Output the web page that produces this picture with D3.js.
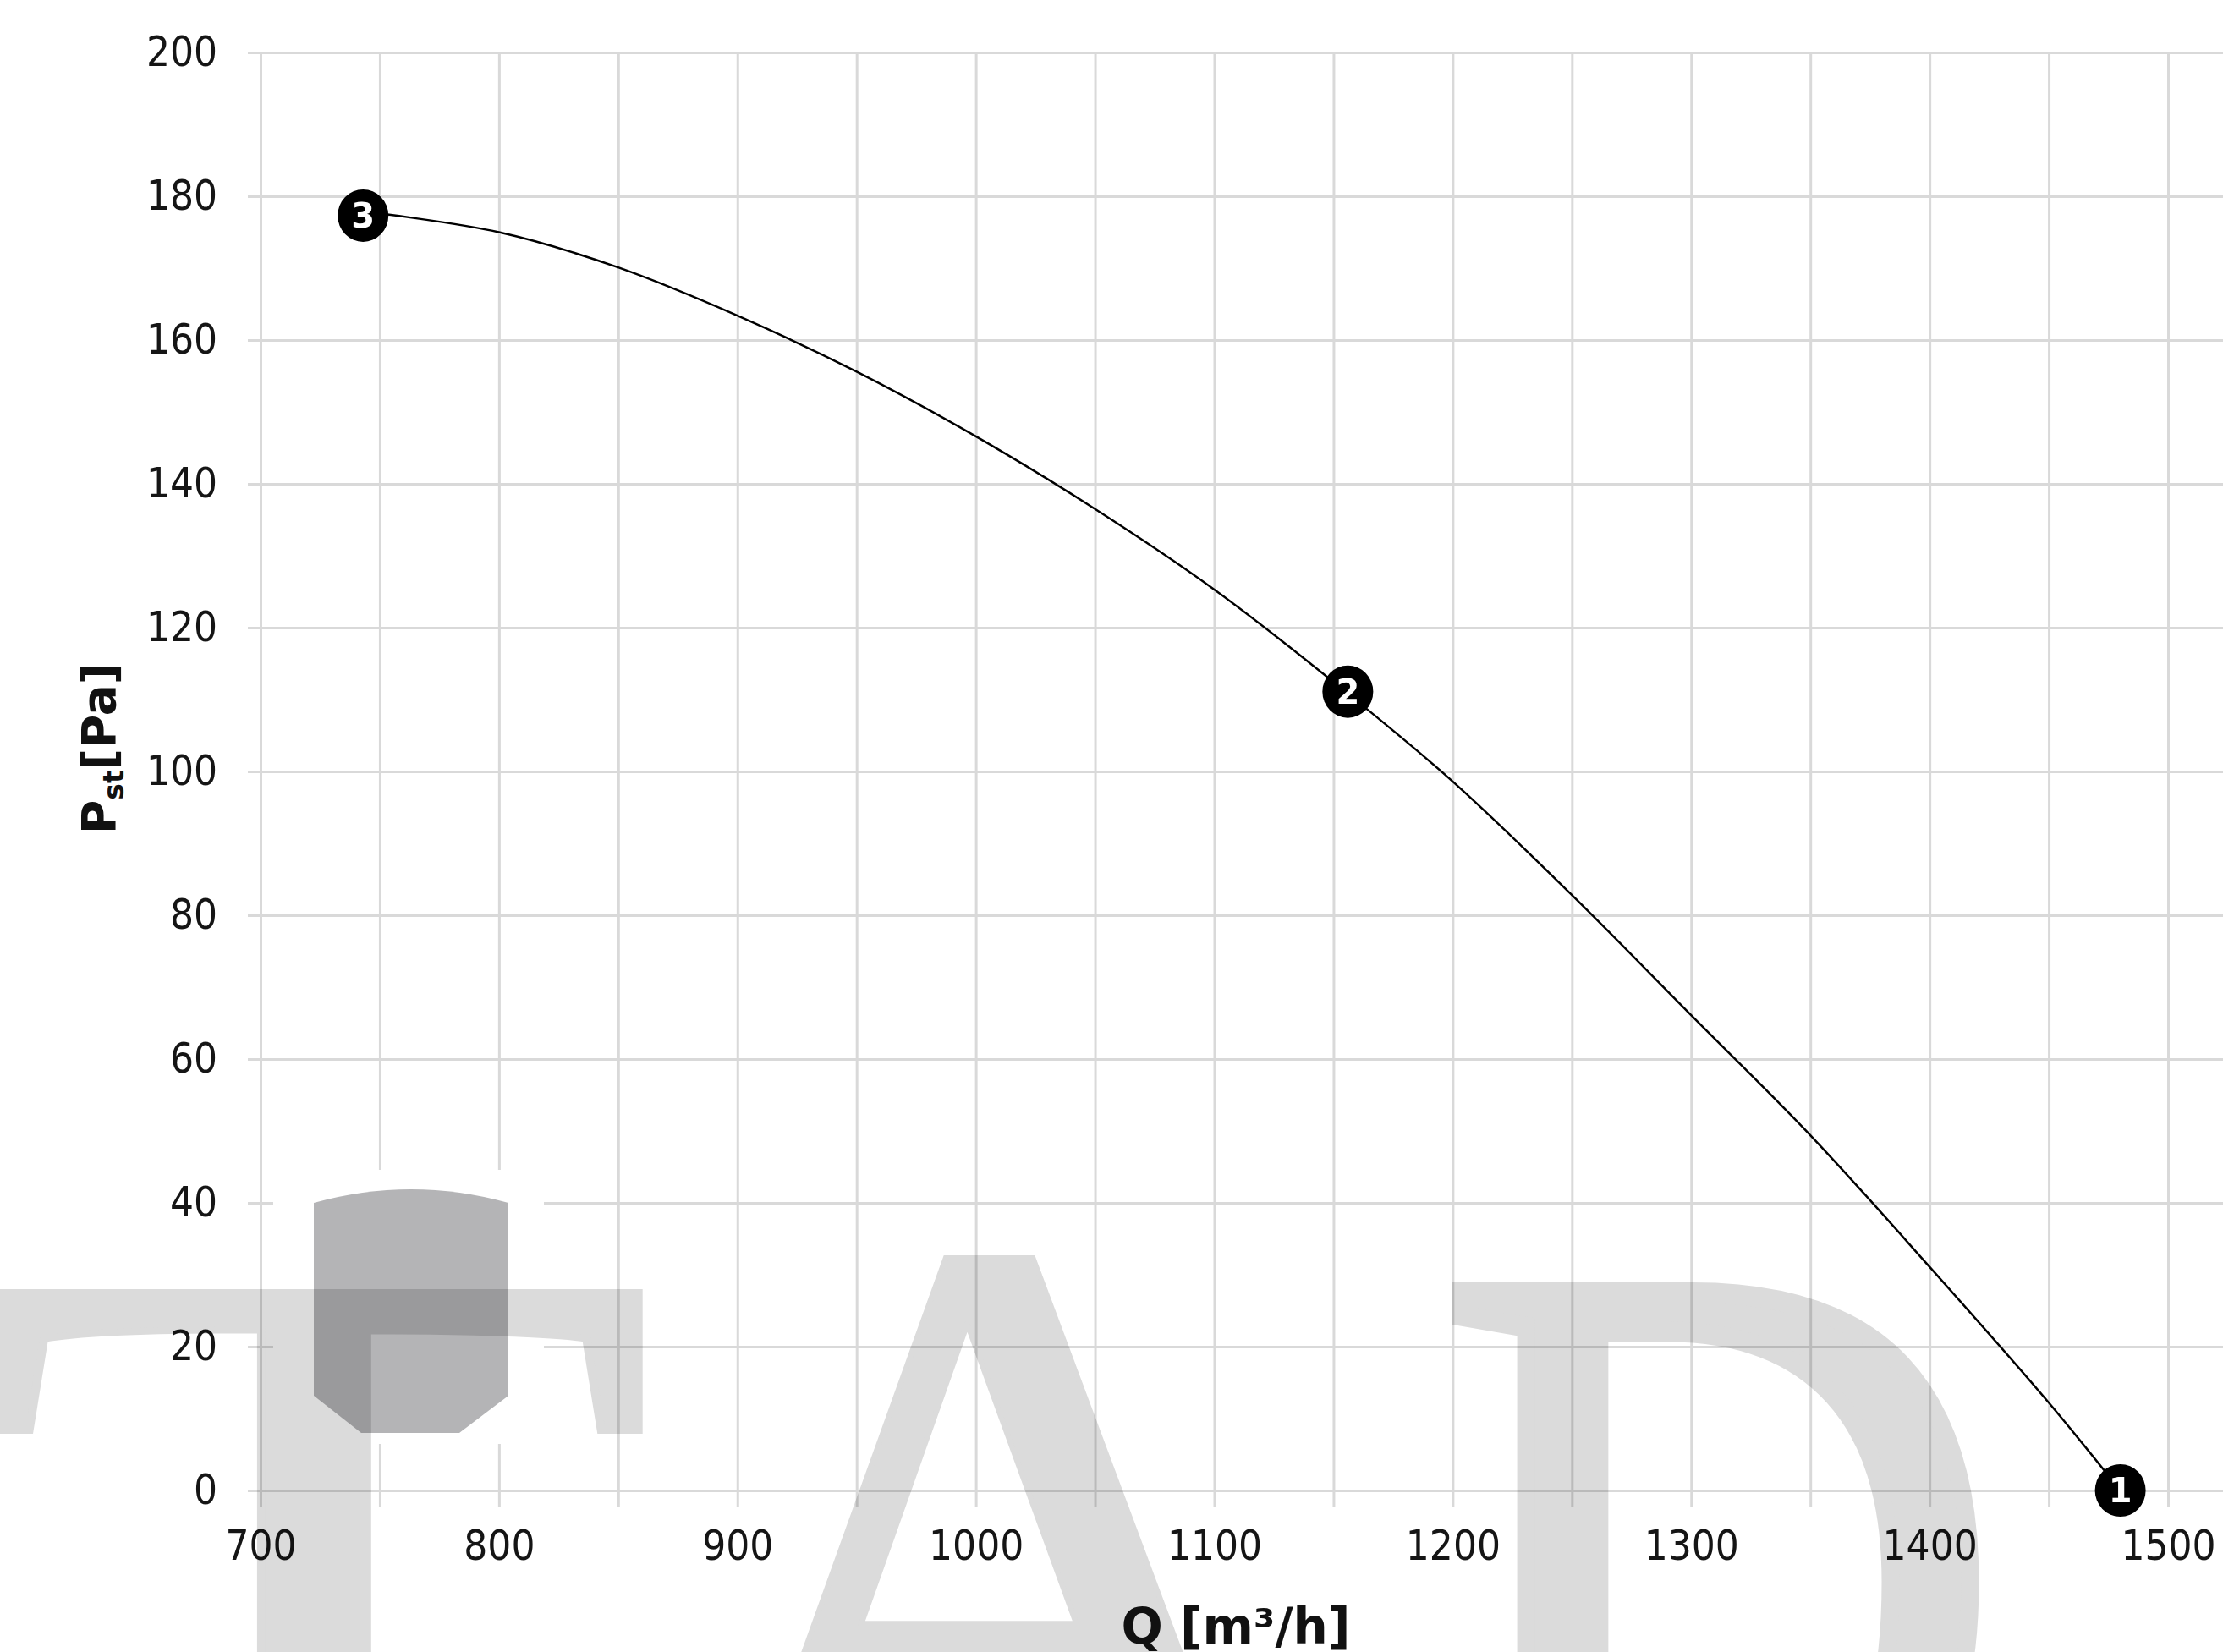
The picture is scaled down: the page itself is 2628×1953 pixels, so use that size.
<!DOCTYPE html>
<html>
<head>
<meta charset="utf-8">
<script src="https://cdn.jsdelivr.net/npm/d3@7"></script>
<style>
  html, body { margin: 0; padding: 0; background: #fff; }
  svg { display: block; }
  .grid .domain { display: none; }
  .grid .tick line { stroke: #d9d9d9; stroke-width: 3; }
  .grid .tick text {
    font-family: "DejaVu Sans Condensed", "DejaVu Sans", sans-serif;
    font-stretch: condensed;
    font-size: 49px;
    fill: #151515;
  }
  .wm text {
    font-family: 'Liberation Serif', 'Times New Roman', Tinos, serif;
    font-size: 1060px;
  }
</style>
</head>
<body>
<div id="chart"></div>
<script>
// fan curve, static pressure against air flow
const flow = [743, 800, 850, 900, 950, 1000, 1050, 1100, 1155, 1200, 1250, 1300, 1350, 1400, 1450, 1480];
const pressure = [177.9, 175.0, 170.1, 163.4, 155.6, 146.6, 136.5, 125.3, 111.1, 98.6, 82.8, 66.1, 49.4, 31.1, 12.2, 0];

// numbered operating points
const pointFlow = [1480, 1156, 743];
const pointPressure = [0, 111.1, 177.3];
const pointLabels = ['1', '2', '3'];

const xTicks = [700, 800, 900, 1000, 1100, 1200, 1300, 1400, 1500];
const xGrid = [700, 750, 800, 850, 900, 950, 1000, 1050, 1100, 1150, 1200, 1250, 1300, 1350, 1400, 1450, 1500];
const yTicks = [0, 20, 40, 60, 80, 100, 120, 140, 160, 180, 200];

const width = 2628;
const height = 1953;

const svg = d3.select('#chart').append('svg')
    .attr('width', width)
    .attr('height', height)
    .attr('viewBox', [0, 0, width, height]);

const x = d3.scaleLinear().domain([700, 1500]).range([308, 2563]);
const y = d3.scaleLinear().domain([0, 200]).range([1762, 62]);

// vertical grid + x labels
svg.append('g')
    .attr('class', 'grid')
    .attr('transform', 'translate(0,' + (y(0) + 20) + ')')
    .call(d3.axisBottom(x)
        .tickValues(xGrid)
        .tickSize(-(y(0) + 20 - y(200)))
        .tickPadding(27)
        .tickFormat(d => xTicks.includes(d) ? d : ''));

// horizontal grid + y labels
svg.append('g')
    .attr('class', 'grid')
    .attr('transform', 'translate(' + (x(700) - 15) + ',0)')
    .call(d3.axisLeft(y)
        .tickValues(yTicks)
        .tickSize(-(width - x(700) + 15))
        .tickPadding(36));

// white patch behind the logo
svg.append('rect')
    .attr('x', 323).attr('y', 1383)
    .attr('width', 320).attr('height', 324)
    .attr('rx', 30)
    .attr('fill', '#fff');

// watermark letters
const wm = svg.append('g')
    .attr('class', 'wm')
    .style('mix-blend-mode', 'multiply')
    .attr('fill', '#dbdbdb')
    .attr('stroke', '#dbdbdb');

wm.append('text')
    .attr('transform', 'translate(372,2222) scale(1.25,1)')
    .attr('text-anchor', 'middle')
    .attr('stroke-width', 8)
    .text('T');
wm.append('text')
    .attr('transform', 'translate(1178,2222) scale(1.05)')
    .attr('text-anchor', 'middle')
    .attr('stroke-width', 6)
    .text('A');
wm.append('text')
    .attr('transform', 'translate(1700,2222) scale(0.87,1)')
    .attr('stroke-width', 24)
    .text('D');

// logo
svg.append('path')
    .attr('d', 'M371,1422 Q486,1390 601,1422 L601,1650 L543,1694 L427,1694 L371,1650 Z')
    .attr('fill', '#b4b4b6')
    .style('mix-blend-mode', 'multiply');

// curve
const line = d3.line()
    .x((d, i) => x(flow[i]))
    .y(d => y(d))
    .curve(d3.curveCatmullRom.alpha(0.5));

svg.append('path')
    .attr('d', line(pressure))
    .attr('fill', 'none')
    .attr('stroke', '#000')
    .attr('stroke-width', 2.5);

// point markers
const marker = svg.append('g')
    .selectAll('g')
    .data(pointLabels)
    .join('g')
    .attr('transform', (d, i) => 'translate(' + x(pointFlow[i]) + ',' + y(pointPressure[i]) + ')');

marker.append('ellipse')
    .attr('rx', 30)
    .attr('ry', 31)
    .attr('fill', '#000');

marker.append('text')
    .attr('text-anchor', 'middle')
    .attr('dy', '0.36em')
    .attr('fill', '#fff')
    .attr('font-family', '"DejaVu Sans", sans-serif')
    .attr('font-weight', 'bold')
    .attr('font-size', 40)
    .text(d => d);

// axis titles
const yTitle = svg.append('text')
    .attr('transform', 'translate(136,885) rotate(-90)')
    .attr('text-anchor', 'middle')
    .attr('font-family', '"DejaVu Sans", sans-serif')
    .attr('font-weight', 'bold')
    .attr('font-size', 55)
    .attr('fill', '#111');
yTitle.append('tspan').text('P');
yTitle.append('tspan').attr('font-size', 33).attr('dy', 10).text('st');
yTitle.append('tspan').attr('dy', -10).text('[Pa]');

svg.append('text')
    .attr('x', 1461)
    .attr('y', 1943)
    .attr('text-anchor', 'middle')
    .attr('font-family', '"DejaVu Sans", sans-serif')
    .attr('font-weight', 'bold')
    .attr('font-size', 58)
    .attr('fill', '#111')
    .text('Q [m³/h]');
</script>
</body>
</html>
